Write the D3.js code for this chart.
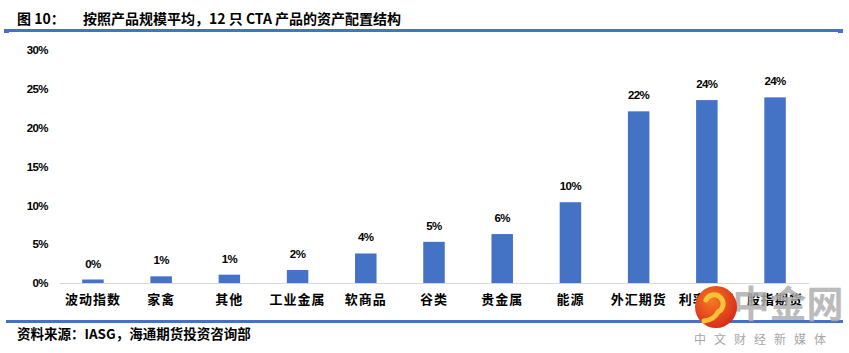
<!DOCTYPE html>
<html><head><meta charset="utf-8">
<script src="https://cdn.jsdelivr.net/npm/d3@7"></script>
<style>body{margin:0;background:#fff}svg{display:block}</style>
</head><body>
<script>
const categories = ["波动指数","家禽","其他","工业金属","软商品","谷类","贵金属","能源","外汇期货","利率期货","股指期货"];
const values = [0.45, 0.86, 1.07, 1.67, 3.8, 5.3, 6.3, 10.4, 22.1, 23.55, 23.9];
const valueLabels = ["0%","1%","1%","2%","4%","5%","6%","10%","22%","24%","24%"];
const yTicks = [0,5,10,15,20,25,30];
const titleNo = "图 10：";
const title = "按照产品规模平均，12 只 CTA 产品的资产配置结构";
const source = "资料来源：IASG，海通期货投资咨询部";

const W = 849, H = 353, blue = "#4472C4";
const svg = d3.select("body").append("svg").attr("width", W).attr("height", H);
const cjk = "'Noto Sans CJK SC','Liberation Sans',sans-serif";
const lat = "'Liberation Sans',Arial,sans-serif";

// title
svg.append("text").attr("x", 17).attr("y", 24).attr("font-family", cjk).attr("font-weight", "bold")
  .attr("font-size", 14).attr("fill", "#000").text(titleNo);
svg.append("text").attr("x", 83).attr("y", 24).attr("font-family", cjk).attr("font-weight", "bold")
  .attr("font-size", 14).attr("fill", "#000").text(title);
// top rule
svg.append("rect").attr("x", 4).attr("y", 29).attr("width", 839).attr("height", 3).attr("fill", blue);
svg.append("rect").attr("x", 4).attr("y", 29).attr("width", 5).attr("height", 4).attr("fill", blue);
svg.append("rect").attr("x", 838).attr("y", 29).attr("width", 5).attr("height", 4).attr("fill", blue);
// bottom rule
svg.append("rect").attr("x", 6).attr("y", 320).attr("width", 837).attr("height", 3).attr("fill", blue);

const x = d3.scaleBand().domain(categories).range([59, 809]).paddingInner(0.685).paddingOuter(0.34);
const y = d3.scaleLinear().domain([0, 30]).range([283, 50]);

// y axis labels
const yAxis = d3.axisLeft(y).tickValues(yTicks).tickFormat(d => d + "%").tickSize(0).tickPadding(0);
const ga = svg.append("g").attr("transform", "translate(48,0)").call(yAxis);
ga.select(".domain").remove();
ga.selectAll("text").attr("font-family", lat).attr("font-weight", "bold")
  .attr("font-size", 11.5).attr("fill", "#000").attr("letter-spacing", "-0.6");

// bars
svg.append("g").selectAll("rect").data(categories).join("rect")
  .attr("x", d => x(d)).attr("width", x.bandwidth())
  .attr("y", (d, i) => y(values[i])).attr("height", (d, i) => y(0) - y(values[i]))
  .attr("fill", blue);

// x axis
const xAxis = d3.axisBottom(x).tickSize(0).tickPadding(12);
const gx = svg.append("g").attr("transform", "translate(0,283)").call(xAxis);
gx.select(".domain").attr("stroke", "#d9d9d9").attr("stroke-width", 1);
gx.selectAll("text").attr("font-family", cjk).attr("font-weight", "bold").attr("font-size", 13)
  .attr("letter-spacing", "1").attr("fill", "#000");

// value labels
svg.append("g").selectAll("text").data(categories).join("text")
  .attr("x", d => x(d) + x.bandwidth() / 2).attr("y", (d, i) => y(values[i]) - 12)
  .attr("text-anchor", "middle").attr("font-family", lat)
  .attr("font-weight", "bold").attr("font-size", 11.5).attr("letter-spacing", "-0.6").attr("fill", "#000")
  .text((d, i) => valueLabels[i]);

// source
svg.append("text").attr("x", 17).attr("y", 339).attr("font-family", cjk).attr("font-weight", "bold")
  .attr("font-size", 13.5).attr("fill", "#000").text(source);

// watermark
const wm = svg.append("g");
wm.append("text").attr("x", 788).attr("y", 318).attr("text-anchor", "middle").attr("font-family", cjk)
  .attr("font-weight", "bold").attr("font-size", 37).attr("fill", "#b0b0b0").attr("opacity", 0.85).text("中金网");
wm.append("text").attr("x", 764).attr("y", 344).attr("text-anchor", "middle").attr("font-family", cjk)
  .attr("font-size", 12).attr("letter-spacing", "8").attr("fill", "#a6a6a6").text("中文财经新媒体");
const grad = svg.append("defs").append("radialGradient").attr("id", "lg").attr("cx", "40%").attr("cy", "35%").attr("r", "70%");
grad.append("stop").attr("offset", "0%").attr("stop-color", "#f47a20");
grad.append("stop").attr("offset", "100%").attr("stop-color", "#d8261a");
wm.append("circle").attr("cx", 716).attr("cy", 307).attr("r", 21).attr("fill", "url(#lg)");
wm.append("path").attr("d", "M706,300 a9,9 0 1 1 12,12 q-4,8 -14,9").attr("fill", "none")
  .attr("stroke", "#f6c23a").attr("stroke-width", 5).attr("stroke-linecap", "round");
</script>
</body></html>
